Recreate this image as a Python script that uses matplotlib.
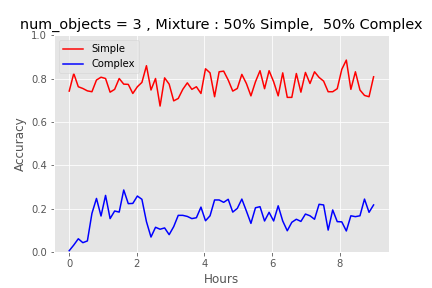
import numpy as np
import matplotlib
matplotlib.use("Agg")
import matplotlib.pyplot as plt

plt.style.use("ggplot")

hours = np.linspace(0, 9, 68)
simple = [0.742, 0.823, 0.762, 0.754, 0.743, 0.739, 0.793, 0.806, 0.800, 0.737,
          0.750, 0.800, 0.774, 0.773, 0.731, 0.762, 0.782, 0.859, 0.747, 0.800,
          0.673, 0.803, 0.774, 0.697, 0.708, 0.750, 0.780, 0.750, 0.762, 0.731,
          0.845, 0.826, 0.716, 0.831, 0.834, 0.793, 0.742, 0.754, 0.819, 0.777,
          0.720, 0.785, 0.836, 0.753, 0.836, 0.785, 0.720, 0.826, 0.713, 0.713,
          0.823, 0.737, 0.828, 0.777, 0.831, 0.805, 0.788, 0.739, 0.739, 0.753,
          0.842, 0.885, 0.750, 0.831, 0.747, 0.722, 0.716, 0.808]
complex_ = [0.006, 0.032, 0.061, 0.043, 0.051, 0.178, 0.247, 0.166, 0.261, 0.154,
            0.189, 0.184, 0.286, 0.223, 0.224, 0.258, 0.243, 0.140, 0.069, 0.114,
            0.105, 0.111, 0.080, 0.117, 0.169, 0.169, 0.164, 0.154, 0.158, 0.207,
            0.144, 0.167, 0.240, 0.240, 0.229, 0.243, 0.184, 0.201, 0.244, 0.189,
            0.132, 0.204, 0.209, 0.143, 0.183, 0.143, 0.213, 0.143, 0.098, 0.137,
            0.151, 0.141, 0.175, 0.167, 0.151, 0.220, 0.217, 0.101, 0.194, 0.140,
            0.139, 0.097, 0.167, 0.163, 0.167, 0.244, 0.183, 0.217]

fig, ax = plt.subplots(figsize=(6, 4), dpi=72)
fig.subplots_adjust(left=0.125, right=0.9, bottom=0.125, top=0.878)
ax.plot(hours, simple, color="red", label="Simple")
ax.plot(hours, complex_, color="blue", label="Complex")
ax.set_ylim(0, 1.0)
ax.set_xlabel("Hours")
ax.set_ylabel("Accuracy")
ax.set_title("num_objects = 3 , Mixture : 50% Simple,  50% Complex")
ax.legend(loc="upper left")
fig.savefig("out.png", dpi=72)
